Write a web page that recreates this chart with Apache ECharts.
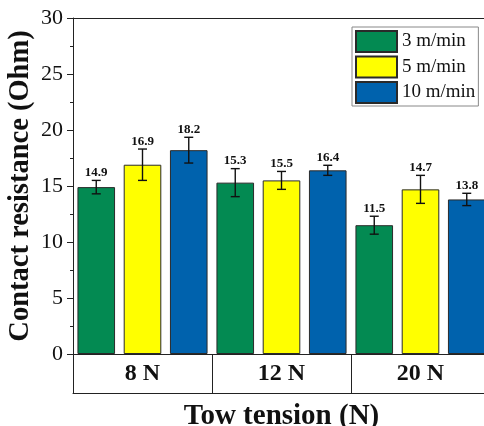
<!DOCTYPE html>
<html>
<head>
<meta charset="utf-8">
<script src="https://cdn.jsdelivr.net/npm/echarts@6/dist/echarts.min.js"></script>
<style>html,body{margin:0;padding:0;background:#fff;}#c{width:484px;height:426px;}</style>
</head>
<body>
<div id="c"></div>
<script>
const categories = ['8 N', '12 N', '20 N'];
const seriesNames = ['3 m/min', '5 m/min', '10 m/min'];
const values3 = [14.9, 15.3, 11.5];
const values5 = [16.9, 15.5, 14.7];
const values10 = [18.2, 16.4, 13.8];
const err3 = [0.6, 1.25, 0.8];
const err5 = [1.4, 0.8, 1.25];
const err10 = [1.15, 0.45, 0.55];
const yTicks = [0, 5, 10, 15, 20, 25, 30];

const colors = ['#038A52', '#FFFF00', '#0062AD'];
const allValues = [values3, values5, values10];
const allErr = [err3, err5, err10];
const CAT_GAP = 0.064, BAR_GAP = 0.23;
const FONT = '"Liberation Serif", "Times New Roman", serif';

const chart = echarts.init(document.getElementById('c'), null, {renderer: 'canvas'});

const barSeries = seriesNames.map((n, i) => ({
  name: n, type: 'bar', data: allValues[i],
  barGap: (BAR_GAP * 100) + '%', barCategoryGap: (CAT_GAP * 100) + '%',
  itemStyle: {color: colors[i], borderColor: '#2a2a2a', borderWidth: 1},
  emphasis: {disabled: true}
}));

const errData = [];
for (let s = 0; s < 3; s++) for (let c = 0; c < 3; c++) errData.push([c, allValues[s][c], allErr[s][c], s]);

const errSeries = {
  type: 'custom', data: errData, z: 10, silent: true,
  encode: {x: 0, y: 1},
  renderItem: function (params, api) {
    const c = api.value(0), v = api.value(1), e = api.value(2), s = api.value(3);
    const band = api.size([1, 0])[0];
    const w = band * (1 - CAT_GAP) / (3 + 2 * BAR_GAP);
    const total = 3 * w + 2 * BAR_GAP * w;
    const center = api.coord([c, v])[0];
    const x = center - total / 2 + w / 2 + s * (w + BAR_GAP * w);
    const yt = api.coord([c, v + e])[1];
    const yb = api.coord([c, v - e])[1];
    const cap = 4.5;
    const st = {stroke: '#111', lineWidth: 1.4};
    return {type: 'group', children: [
      {type: 'line', shape: {x1: x, y1: yt, x2: x, y2: yb}, style: st},
      {type: 'line', shape: {x1: x - cap, y1: yt, x2: x + cap, y2: yt}, style: st},
      {type: 'line', shape: {x1: x - cap, y1: yb, x2: x + cap, y2: yb}, style: st},
      {type: 'text', x: x, y: yt - 1, style: {text: v.toFixed(1), fill: '#111', font: 'bold 13px ' + FONT, textAlign: 'center', textVerticalAlign: 'bottom'}}
    ]};
  }
};

chart.setOption({
  animation: false,
  backgroundColor: '#fff',
  color: colors,
  grid: {left: 73, top: 18, width: 417, height: 336, outerBoundsMode: 'none', containLabel: false},
  legend: {
    orient: 'vertical', left: 352, top: 27,
    itemWidth: 41, itemHeight: 21, itemGap: 2.5,
    padding: [3, 3, 2, 3],
    borderColor: '#888', borderWidth: 1, backgroundColor: '#fff',
    data: seriesNames.map(n => ({name: n, icon: 'rect'})),
    textStyle: {fontFamily: FONT, fontSize: 19, color: '#111'},
    selectedMode: false
  },
  xAxis: [
    {
      type: 'category', data: categories, position: 'bottom',
      axisLine: {show: true, lineStyle: {color: '#222', width: 1}},
      axisTick: {show: true, length: 39, lineStyle: {color: '#222', width: 1}},
      axisLabel: {fontFamily: FONT, fontWeight: 'bold', fontSize: 24, color: '#111', margin: 8},
      name: 'Tow tension (N)', nameLocation: 'middle', nameGap: 48,
      nameTextStyle: {fontFamily: FONT, fontWeight: 'bold', fontSize: 29, color: '#111'}
    },
    {
      type: 'category', data: categories, position: 'bottom', offset: 39,
      axisLine: {show: true, onZero: false, lineStyle: {color: '#222', width: 1}},
      axisTick: {show: false}, axisLabel: {show: false}
    },
    {
      type: 'category', data: categories, position: 'top',
      axisLine: {show: true, onZero: false, lineStyle: {color: '#222', width: 1}},
      axisTick: {show: false}, axisLabel: {show: false}
    }
  ],
  yAxis: [{
    type: 'value', min: yTicks[0], max: yTicks[yTicks.length - 1], interval: 5,
    axisLine: {show: true, lineStyle: {color: '#222', width: 1}},
    axisTick: {show: true, length: 6, lineStyle: {color: '#222'}},
    minorTick: {show: true, splitNumber: 2, length: 3, lineStyle: {color: '#222'}},
    splitLine: {show: false},
    axisLabel: {fontFamily: FONT, fontSize: 22, color: '#111', margin: 10},
    name: 'Contact resistance (Ohm)', nameLocation: 'middle', nameGap: 38, nameRotate: 90,
    nameMoveOverlap: false,
    nameTextStyle: {fontFamily: FONT, fontWeight: 'bold', fontSize: 28.5, color: '#111'}
  }, {
    type: 'value', min: 0, max: 30, interval: 5, position: 'right',
    axisLine: {show: true, lineStyle: {color: '#222'}}, axisTick: {show: false}, axisLabel: {show: false}, splitLine: {show: false}
  }],
  series: barSeries.concat([errSeries])
});
</script>
</body>
</html>
